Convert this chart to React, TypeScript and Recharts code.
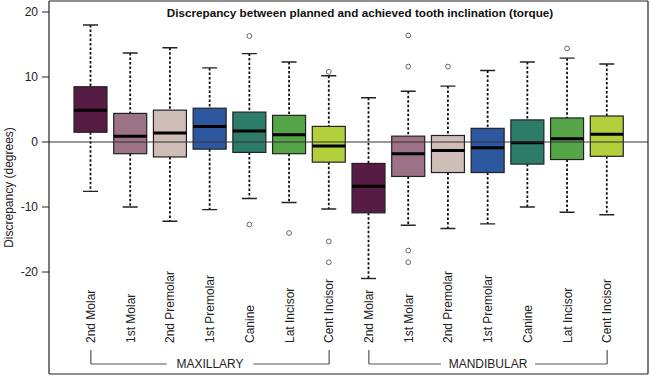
import * as React from "react";
import { ComposedChart, Bar, XAxis, YAxis, ReferenceLine } from "recharts";

document.body.style.margin = "0";

const title = "Discrepancy between planned and achieved tooth inclination (torque)";
const arches = ["MAXILLARY", "MANDIBULAR"];
const teeth = ["2nd Molar", "1st Molar", "2nd Premolar", "1st Premolar", "Canine", "Lat Incisor", "Cent Incisor"];
const categories = arches.flatMap((a) => teeth.map((t) => `${a}|${t}`));

// maxillary first 7, mandibular next 7
const whiskerLow = [-7.6, -10.0, -12.2, -10.4, -8.7, -9.3, -10.3, -21.0, -12.8, -13.3, -12.6, -10.0, -10.8, -11.2];
const lowerQuartile = [1.5, -1.8, -2.3, -1.1, -1.6, -1.8, -3.1, -10.9, -5.3, -4.7, -4.7, -3.4, -2.7, -2.2];
const medians = [4.9, 0.9, 1.4, 2.4, 1.7, 1.1, -0.6, -6.8, -1.8, -1.3, -0.9, -0.1, 0.5, 1.2];
const upperQuartile = [8.5, 4.4, 4.9, 5.2, 4.6, 4.1, 2.4, -3.3, 0.9, 1.0, 2.1, 3.4, 3.7, 4.0];
const whiskerHigh = [18.0, 13.7, 14.5, 11.4, 13.6, 12.3, 10.2, 6.8, 7.8, 8.6, 11.0, 12.3, 12.9, 12.0];
const outliers = [
  [], [], [], [], [16.3, -12.7], [-14.0], [10.8, -15.3, -18.5],
  [], [16.4, 11.6, -16.7, -18.5], [11.6], [], [], [14.4], [],
];
const yTicks = [-20, -10, 0, 10, 20];
const yDomain = [-35.69, 21.69];

const toothColors = ["#561c44", "#9c7386", "#cfbdb8", "#2d58a0", "#2d7c69", "#55a548", "#b4cf3c"];

const data = categories.map((key, i) => ({
  key,
  range: [whiskerLow[i], whiskerHigh[i]],
  lo: whiskerLow[i],
  q1: lowerQuartile[i],
  med: medians[i],
  q3: upperQuartile[i],
  hi: whiskerHigh[i],
  out: outliers[i],
  color: toothColors[i % teeth.length],
}));

function BoxShape(props: any) {
  const { x, y, width, height, payload } = props;
  const { lo, hi, q1, med, q3, out, color } = payload;
  const top = Math.min(y, y + height);
  const k = Math.abs(height) / (hi - lo);
  const py = (v: number) => top + (hi - v) * k;
  const cx = x + width / 2;
  const cap = 7.5;
  return (
    <g>
      <line x1={cx} x2={cx} y1={py(hi)} y2={py(q3)} stroke="#111" strokeWidth={1.8} strokeDasharray="2.5 2" />
      <line x1={cx} x2={cx} y1={py(q1)} y2={py(lo)} stroke="#111" strokeWidth={1.8} strokeDasharray="2.5 2" />
      <line x1={cx - cap} x2={cx + cap} y1={py(hi)} y2={py(hi)} stroke="#222" strokeWidth={1.4} />
      <line x1={cx - cap} x2={cx + cap} y1={py(lo)} y2={py(lo)} stroke="#222" strokeWidth={1.4} />
      <rect x={x} y={py(q3)} width={width} height={py(q1) - py(q3)} fill={color} stroke="#222" strokeWidth={1.2} />
      <line x1={x} x2={x + width} y1={py(med)} y2={py(med)} stroke="#000" strokeWidth={3} />
      {out.map((v: number, j: number) => (
        <circle key={j} cx={cx} cy={py(v)} r={2.4} fill="#fff" stroke="#555" strokeWidth={0.9} />
      ))}
    </g>
  );
}

function ToothTick(props: any) {
  const { x, y, payload } = props;
  const name = String(payload.value).split("|")[1];
  const ty = y - 39;
  return (
    <text x={x} y={ty} dy="0.35em" transform={`rotate(-90, ${x}, ${ty})`} textAnchor="start" fontSize={12} fill="#222">
      {name}
    </text>
  );
}

function BracketLabel(props: any) {
  const { viewBox, value } = props;
  const cx = viewBox.x + viewBox.width / 2;
  const cy = viewBox.y;
  const w = String(value).length * 7.4 + 20;
  return (
    <g>
      <rect x={cx - w / 2} y={cy - 5} width={w} height={10} fill="#fff" />
      <text x={cx} y={cy} dy="0.35em" textAnchor="middle" fontSize={12} fill="#222">
        {value}
      </text>
    </g>
  );
}

const bracketTop = -32.0;
const bracketBottom = -34.15;

export default function App() {
  return (
    <ComposedChart
      width={650}
      height={377}
      data={data}
      margin={{ top: 0, right: 1, left: 0, bottom: 2 }}
      style={{ fontFamily: "'Liberation Sans', Arial, sans-serif" }}
    >
      <XAxis
        dataKey="key"
        height={1}
        padding={{ left: 22, right: 21 }}
        interval={0}
        tickLine={false}
        axisLine={{ stroke: "#222", strokeWidth: 1.2 }}
        tick={<ToothTick />}
      />
      <XAxis xAxisId="top" dataKey="key" orientation="top" height={1} tick={false} tickLine={false} axisLine={{ stroke: "#222", strokeWidth: 1.2 }} />
      <YAxis
        type="number"
        domain={yDomain}
        ticks={yTicks}
        allowDataOverflow
        width={49}
        tickSize={7}
        tickMargin={4}
        tick={{ fontSize: 12, fill: "#222" }}
        tickLine={{ stroke: "#222" }}
        axisLine={{ stroke: "#222", strokeWidth: 1.2 }}
        label={{ value: "Discrepancy (degrees)", angle: -90, position: "center", dx: -16, fontSize: 12, fill: "#222" }}
      />
      <YAxis yAxisId="frame" orientation="right" type="number" domain={yDomain} width={1} tick={false} tickLine={false} axisLine={{ stroke: "#222", strokeWidth: 1.2 }} />
      <Bar dataKey="range" barSize={33} shape={<BoxShape />} isAnimationActive={false} />
      <ReferenceLine y={0} stroke="#333" strokeWidth={1.2} />
      {arches.map((a) => {
        const first = `${a}|${teeth[0]}`;
        const last = `${a}|${teeth[teeth.length - 1]}`;
        return (
          <React.Fragment key={a}>
            <ReferenceLine segment={[{ x: first, y: bracketTop }, { x: first, y: bracketBottom }]} stroke="#555" strokeWidth={1.2} />
            <ReferenceLine segment={[{ x: last, y: bracketTop }, { x: last, y: bracketBottom }]} stroke="#555" strokeWidth={1.2} />
            <ReferenceLine
              segment={[{ x: first, y: bracketBottom }, { x: last, y: bracketBottom }]}
              stroke="#555"
              strokeWidth={1.2}
              label={{ value: a, content: BracketLabel }}
            />
          </React.Fragment>
        );
      })}
      <text x={360} y={17} textAnchor="middle" fontSize={11.7} fontWeight="bold" fill="#111">
        {title}
      </text>
    </ComposedChart>
  );
}
